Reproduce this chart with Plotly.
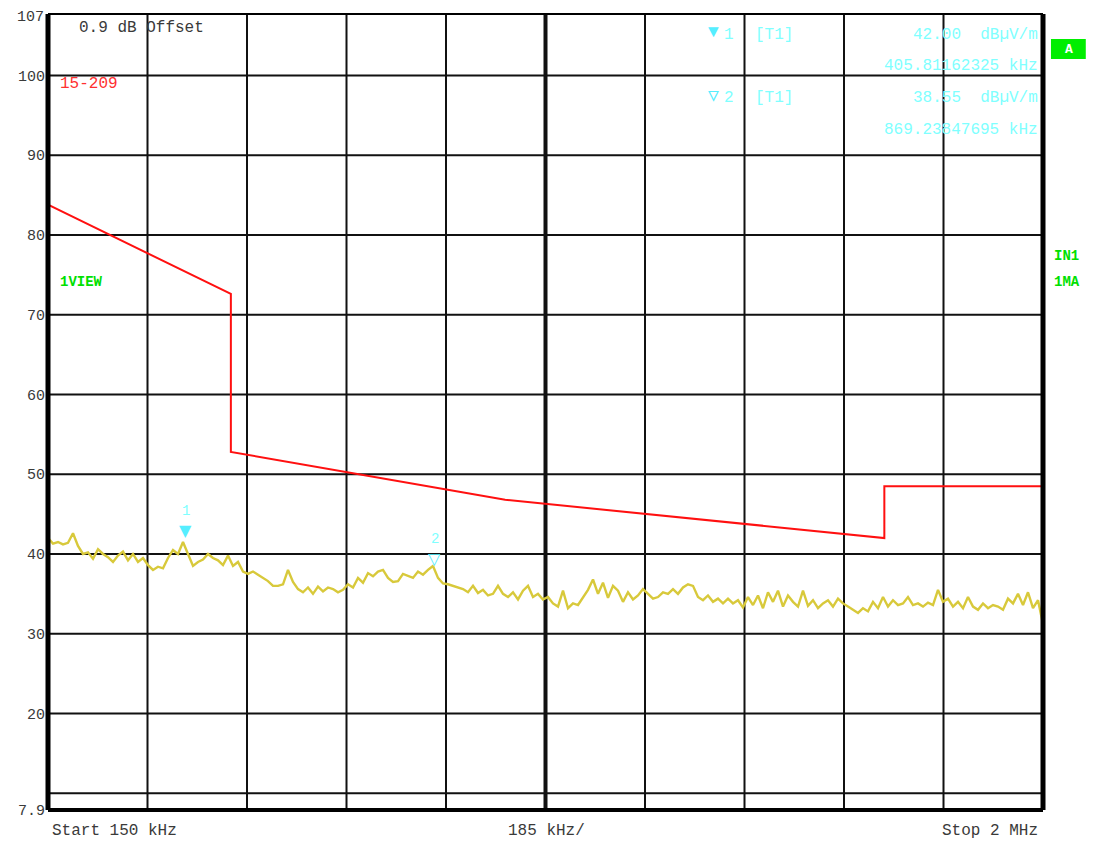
import plotly.graph_objects as go

# ---------------- data ----------------
START_KHZ = 150.0
STOP_KHZ = 2000.0
DIV_KHZ = 185.0

trace_db = [
    42.0, 41.3, 41.5, 41.2, 41.4, 42.6, 41.0, 40.0, 40.2, 39.4,
    40.6, 40.0, 39.6, 39.0, 39.8, 40.3, 39.2, 40.0, 39.0, 39.5,
    38.6, 38.0, 38.4, 38.2, 39.5, 40.5, 40.0, 41.5, 40.0, 38.5,
    39.0, 39.3, 40.0, 39.5, 39.2, 38.6, 39.8, 38.5, 39.0, 37.8,
    37.5, 37.8, 37.4, 37.0, 36.6, 36.0, 36.0, 36.2, 38.0, 36.5,
    35.6, 35.2, 35.8, 35.0, 35.9, 35.3, 35.8, 35.6, 35.2, 35.5,
    36.2, 35.8, 37.0, 36.4, 37.6, 37.2, 37.8, 38.0, 37.0, 36.5,
    36.6, 37.5, 37.2, 37.0, 37.8, 37.4, 38.0, 38.5, 37.0, 36.3,
    36.2, 36.0, 35.8, 35.6, 35.2, 36.0, 35.1, 35.5, 34.8, 35.0,
    36.0, 35.0, 34.6, 35.2, 34.3, 35.4, 36.0, 34.6, 35.0, 34.3,
    34.6, 33.8, 33.4, 35.4, 33.2, 33.8, 33.6, 34.6, 35.5, 36.8,
    35.0, 36.4, 34.5, 36.0, 35.4, 34.0, 35.2, 34.3, 34.8, 35.6,
    35.0, 34.4, 34.6, 35.2, 35.0, 35.6, 35.0, 35.8, 36.2, 36.0,
    34.6, 34.2, 34.8, 34.0, 34.4, 33.8, 34.4, 33.8, 34.2, 33.3,
    34.6, 33.6, 34.8, 33.2, 35.2, 34.0, 35.4, 33.4, 34.8, 34.0,
    33.4, 35.4, 33.5, 34.2, 33.2, 33.8, 34.2, 33.4, 34.4, 33.8,
    33.4, 33.0, 32.6, 33.2, 32.8, 34.0, 33.2, 34.6, 33.4, 34.2,
    33.6, 33.8, 34.6, 33.6, 33.8, 33.4, 33.9, 33.6, 35.5, 34.0,
    34.4, 33.4, 34.0, 33.2, 34.6, 33.4, 33.0, 33.8, 33.2, 33.6,
    33.4, 33.0, 34.4, 33.8, 35.0, 33.6, 35.2, 33.2, 34.2, 31.2,
]
n_pts = len(trace_db)
trace_khz = [START_KHZ + i * (STOP_KHZ - START_KHZ) / (n_pts - 1) for i in range(n_pts)]

limit_khz = [150, 490, 490, 1000, 1705, 1705, 2000]
limit_db = [83.8, 72.6, 52.8, 46.8, 42.0, 48.5, 48.5]

marker_khz = [405.81162325, 869.23847695]
marker_db = [42.00, 38.55]
marker_sym = ["▼", "▽"]
marker_lbl = ["1", "2"]

y_tickvals = [7.9, 20, 30, 40, 50, 60, 70, 80, 90, 100]
y_ticktext = ["7.9", "20", "30", "40", "50", "60", "70", "80", "90", "100"]
y_top_label = "107"
y_grid = [10, 20, 30, 40, 50, 60, 70, 80, 90, 100]

Y_MIN, Y_MAX = 7.9, 107.7

MONO = "Liberation Mono, Courier New, monospace"
GRAY = "#3a3a3a"
CYAN = "#80ffff"
CYAN_MK = "#55eeff"
GREEN = "#00e000"
TRACE = "#d8c93b"

fig = go.Figure()

fig.add_trace(go.Scatter(
    x=limit_khz, y=limit_db, mode="lines",
    line=dict(color="#ff1010", width=2), hoverinfo="skip", showlegend=False))

fig.add_trace(go.Scatter(
    x=trace_khz, y=trace_db, mode="lines",
    line=dict(color=TRACE, width=2.4), hoverinfo="skip", showlegend=False))

# ---------------- grid & frame ----------------
shapes = []
for k in range(1, 10):
    xv = START_KHZ + k * DIV_KHZ
    shapes.append(dict(type="line", xref="x", yref="paper", x0=xv, x1=xv, y0=0, y1=1,
                       line=dict(color="#111111", width=4 if k == 5 else 2), layer="below"))
for yv in y_grid:
    shapes.append(dict(type="line", xref="paper", yref="y", x0=0, x1=1, y0=yv, y1=yv,
                       line=dict(color="#111111", width=2), layer="below"))
# frame
shapes.append(dict(type="line", xref="paper", yref="paper", x0=0, x1=0, y0=0, y1=1,
                   line=dict(color="#000", width=5)))
shapes.append(dict(type="line", xref="paper", yref="paper", x0=1, x1=1, y0=0, y1=1,
                   line=dict(color="#000", width=5)))
shapes.append(dict(type="line", xref="paper", yref="paper", x0=0, x1=1, y0=0, y1=0,
                   line=dict(color="#000", width=4)))
shapes.append(dict(type="line", xref="paper", yref="paper", x0=0, x1=1, y0=1, y1=1,
                   line=dict(color="#000", width=2)))
# "A" box
shapes.append(dict(type="rect", xref="paper", yref="paper", x0=1.008, x1=1.043, y0=0.9435, y1=0.9686,
                   line=dict(width=0), fillcolor="#00ee00"))

ann = []
def txt(x, y, s, color=GRAY, size=16, xanchor="left", bold=False, xref="paper", yref="paper",
        yshift=0, yanchor="middle"):
    ann.append(dict(x=x, y=y, xref=xref, yref=yref, text=("<b>%s</b>" % s) if bold else s,
                    showarrow=False, xanchor=xanchor, yanchor=yanchor, yshift=yshift,
                    font=dict(family=MONO, size=size, color=color)))

# page-pixel helpers (plot area spans page x 48..1043, y 14..810)
def px(xp):
    return (xp - 48) / 995.0
def py(yp):
    return (810 - yp) / 796.0

# top y label (placed as text since it sits at the very top edge)
txt(px(46), py(8), y_top_label, size=15, xanchor="right", yanchor="top", yshift=1)

txt(px(77), py(28), "0.9 dB Offset")
txt(px(58), py(84), "15-209", color="#ff3030")
txt(px(58), py(282), "1VIEW", color=GREEN, bold=True, size=14)
txt(px(1052), py(256), "IN1", color=GREEN, bold=True, size=14)
txt(px(1052), py(282), "1MA", color=GREEN, bold=True, size=14)
txt(px(1068.5), py(49), "A", color="white", bold=True, size=13, xanchor="center")

# marker info block
txt(px(713), py(32), marker_sym[0], color=CYAN_MK, size=18, xanchor="center")
txt(px(722), py(35), marker_lbl[0], color=CYAN)
txt(px(753), py(35), "[T1]", color=CYAN)
txt(px(1040), py(35), "%.2f  dBµV/m" % marker_db[0], color=CYAN, xanchor="right")
txt(px(1040), py(66), "%.8f kHz" % marker_khz[0], color=CYAN, xanchor="right")
txt(px(713), py(96), marker_sym[1], color=CYAN_MK, size=18, xanchor="center")
txt(px(722), py(98), marker_lbl[1], color=CYAN)
txt(px(753), py(98), "[T1]", color=CYAN)
txt(px(1040), py(98), "%.2f  dBµV/m" % marker_db[1], color=CYAN, xanchor="right")
txt(px(1040), py(130), "%.8f kHz" % marker_khz[1], color=CYAN, xanchor="right")

# bottom labels
txt(px(50), py(831), "Start %d kHz" % START_KHZ)
txt(px(546), py(831), "%d kHz/" % DIV_KHZ, xanchor="center")
txt(px(1040), py(831), "Stop %d MHz" % (STOP_KHZ / 1000), xanchor="right")

# trace markers
for xk, yd, sym, lbl in zip(marker_khz, marker_db, marker_sym, marker_lbl):
    ann.append(dict(x=xk, y=yd, xref="x", yref="y", text=sym, showarrow=False,
                    xanchor="center", yanchor="bottom", yshift=-4,
                    font=dict(family="DejaVu Sans", size=16, color=CYAN_MK)))
    ann.append(dict(x=xk, y=yd, xref="x", yref="y", text=lbl, showarrow=False,
                    xanchor="center", yanchor="bottom", yshift=17,
                    font=dict(family=MONO, size=14, color=CYAN)))

# the page body has an 8px margin, so the figure is shrunk/shifted by 8px
fig.update_layout(
    width=1087, height=837,
    margin=dict(l=40, r=52, t=6, b=35, autoexpand=False),
    paper_bgcolor="white", plot_bgcolor="white",
    xaxis=dict(range=[START_KHZ, STOP_KHZ], showgrid=False, zeroline=False,
               showticklabels=False, ticks="", fixedrange=True, automargin=False),
    yaxis=dict(range=[Y_MIN, Y_MAX], showgrid=False, zeroline=False,
               tickvals=y_tickvals, ticktext=y_ticktext, ticks="", ticklabelstandoff=2,
               tickfont=dict(family=MONO, size=15, color=GRAY), fixedrange=True,
               automargin=False),
    shapes=shapes, annotations=ann, showlegend=False,
)

fig.write_html("out.html")
